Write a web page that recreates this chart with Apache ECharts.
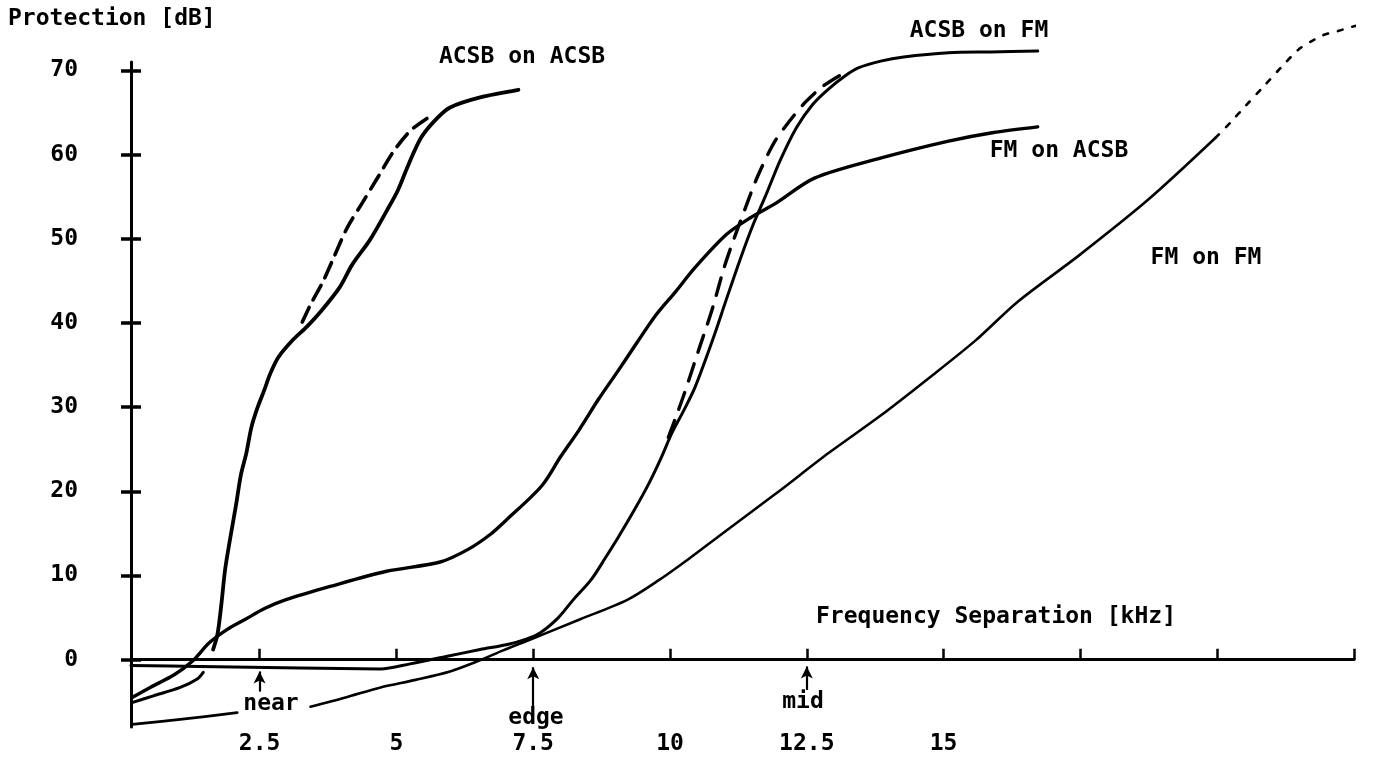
<!DOCTYPE html>
<html>
<head>
<meta charset="utf-8">
<script src="https://cdn.jsdelivr.net/npm/echarts@6/dist/echarts.min.js"></script>
<style>html,body{margin:0;padding:0;background:#fff}#c{width:1382px;height:760px}</style>
</head>
<body>
<div id="c"></div>
<script>
// ---- axis ticks / labels (kHz, dB) ----
const xTickValues = [2.5, 5, 7.5, 10, 12.5, 15, 17.5, 20, 22.5];
const xLabelValues = [2.5, 5, 7.5, 10, 12.5, 15];
const yTickValues = [0, 10, 20, 30, 40, 50, 60, 70];

// ---- curves: [frequency separation kHz, protection dB] ----
const acsbOnAcsbLow = [[0.17,-5.1],[0.56,-4.3],[1.05,-3.3],[1.36,-2.3],[1.47,-1.5]];
const acsbOnAcsb = [[1.65,1.2],[1.73,3.0],[1.80,6.5],[1.87,10.7],[1.96,14.3],[2.07,18.4],[2.16,22.0],[2.26,24.6],[2.35,27.6],[2.46,29.9],[2.59,32.1],[2.69,33.9],[2.84,35.9],[3.11,38.0],[3.37,39.6],[3.61,41.3],[3.96,44.2],[4.19,46.9],[4.52,49.9],[4.83,53.4],[5.03,55.8],[5.22,58.8],[5.45,62.0],[5.71,64.1],[5.98,65.6],[6.53,66.8],[7.23,67.7]];
const acsbOnAcsbDashed = [[3.28,40.1],[3.44,42.3],[3.65,44.8],[3.85,47.7],[4.10,51.3],[4.38,54.3],[4.67,57.4],[4.94,60.3],[5.25,62.8],[5.56,64.3]];
const fmOnAcsb = [[0.17,-4.5],[0.50,-3.3],[0.94,-1.8],[1.27,-0.2],[1.58,2.0],[1.91,3.6],[2.24,4.8],[2.60,6.1],[2.97,7.1],[3.79,8.7],[4.82,10.5],[5.80,11.6],[6.31,13.1],[6.72,14.9],[7.01,16.6],[7.65,20.6],[8.00,24.1],[8.34,27.3],[8.69,30.9],[9.06,34.4],[9.40,37.7],[9.75,41.0],[10.10,43.7],[10.46,46.6],[11.03,50.5],[11.47,52.5],[11.93,54.2],[12.64,57.2],[13.86,59.6],[15.09,61.6],[15.89,62.6],[16.72,63.3]];
const acsbOnFm = [[0.15,-0.7],[1.41,-0.8],[3.24,-1.0],[4.71,-1.1],[5.25,-0.5],[5.93,0.4],[6.53,1.2],[7.03,1.8],[7.36,2.4],[7.63,3.2],[7.96,5.0],[8.23,7.1],[8.56,9.5],[8.82,12.1],[9.06,14.6],[9.35,17.8],[9.62,21.0],[9.84,24.0],[10.04,27.0],[10.26,29.7],[10.46,32.4],[10.78,38.0],[11.03,42.8],[11.29,47.7],[11.52,51.7],[11.74,55.0],[12.02,59.4],[12.31,63.2],[12.60,65.9],[12.88,67.7],[13.21,69.4],[13.44,70.3],[13.85,71.1],[14.27,71.6],[15.09,72.1],[15.86,72.2],[16.72,72.3]];
const acsbOnFmDashed = [[9.97,26.4],[10.24,31.2],[10.54,37.1],[10.77,41.6],[10.99,46.6],[11.18,50.2],[11.38,53.7],[11.60,57.4],[11.91,61.5],[12.20,64.1],[12.47,66.2],[12.79,68.1],[13.13,69.5]];
const fmOnFmLow = [[0.17,-7.7],[1.05,-7.1],[2.09,-6.3]];
const fmOnFm = [[3.43,-5.6],[4.07,-4.5],[4.71,-3.3],[5.35,-2.4],[5.98,-1.4],[6.48,-0.2],[6.95,1.1],[7.45,2.4],[8.36,4.8],[9.22,7.1],[9.81,9.5],[10.37,12.1],[10.88,14.6],[11.93,19.7],[12.91,24.6],[13.85,29.0],[14.74,33.5],[15.58,37.9],[16.35,42.5],[17.47,48.0],[18.73,54.6],[19.97,62.0]];
const fmOnFmDotted = [[19.97,62.0],[20.24,63.8],[20.52,65.8],[20.85,68.1],[21.16,70.3],[21.49,72.5],[21.76,73.6],[21.94,74.2],[22.22,74.7],[22.47,75.2],[22.75,75.5]];

// ---- arrow annotations point at these ticks ----
const arrowTicks = [2.5, 7.5, 12.5];
const arrowNames = ['near', 'edge', 'mid'];

const FONT = 'bold 23px "DejaVu Sans Mono"';
const txt = { color: '#000', fontFamily: 'DejaVu Sans Mono', fontWeight: 'bold', fontSize: 23 };

function line(name, data, width, type) {
  return {
    name, type: 'line', data, showSymbol: false, smooth: 0.3, clip: false, silent: true,
    lineStyle: { color: '#000', width, type, cap: 'round', join: 'round' }
  };
}

const arrowBottom = [-3.8, -5.6, -3.6];
const arrowTip = [-1.4, -0.9, -0.8];

const fmSeries = line('FM on FM', fmOnFm, 2.6, 'solid');
fmSeries.markLine = {
  silent: true, symbol: ['none', 'arrow'], symbolSize: [9, 12], label: { show: false },
  lineStyle: { color: '#000', width: 2.2, type: 'solid' },
  data: arrowTicks.map((t, i) => [{ coord: [t, arrowBottom[i]] }, { coord: [t, arrowTip[i]] }])
};

const option = {
  backgroundColor: '#fff',
  animation: false,
  grid: { left: 131, right: 28, top: 62, bottom: 33, containLabel: false, outerBoundsMode: 'none' },
  xAxis: {
    type: 'value', min: 0.15, max: 22.5,
    axisLine: { onZero: true, lineStyle: { color: '#000', width: 3 } },
    axisTick: { show: true, inside: true, length: 11, customValues: xTickValues, lineStyle: { color: '#000', width: 2.5 } },
    axisLabel: Object.assign({ customValues: xLabelValues, margin: 6 }, txt),
    splitLine: { show: false }
  },
  yAxis: [
    {
      type: 'value', min: -8, max: 71,
      axisLine: { show: true, onZero: false, lineStyle: { color: '#000', width: 3 } },
      axisTick: { show: true, length: 10, customValues: yTickValues, lineStyle: { color: '#000', width: 3.5 } },
      axisLabel: Object.assign({ customValues: yTickValues, margin: 53 }, txt),
      splitLine: { show: false }
    },
    {
      type: 'value', min: -8, max: 71, position: 'left',
      axisLine: { show: false, onZero: false },
      axisTick: { show: true, inside: true, length: 10, customValues: yTickValues, lineStyle: { color: '#000', width: 3.5 } },
      axisLabel: { show: false },
      splitLine: { show: false }
    }
  ],
  series: [
    line('ACSB on ACSB', acsbOnAcsbLow, 3, 'solid'),
    line('ACSB on ACSB', acsbOnAcsb, 3.8, 'solid'),
    line('ACSB on ACSB (dashed)', acsbOnAcsbDashed, 3.6, [16, 9]),
    line('FM on ACSB', fmOnAcsb, 3.4, 'solid'),
    line('ACSB on FM', acsbOnFm, 3, 'solid'),
    line('ACSB on FM (dashed)', acsbOnFmDashed, 3.4, [18, 12]),
    line('FM on FM', fmOnFmLow, 2.8, 'solid'),
    fmSeries,
    line('FM on FM (dotted)', fmOnFmDotted, 2.6, [5, 10])
  ],
  graphic: [
    { type: 'text', x: 8, y: 19, style: { text: 'Protection [dB]', font: FONT, fill: '#000', align: 'left', verticalAlign: 'middle' } },
    { type: 'text', x: 522, y: 57, style: { text: 'ACSB on ACSB', font: FONT, fill: '#000', align: 'center', verticalAlign: 'middle' } },
    { type: 'text', x: 979, y: 31, style: { text: 'ACSB on FM', font: FONT, fill: '#000', align: 'center', verticalAlign: 'middle' } },
    { type: 'text', x: 1059, y: 151, style: { text: 'FM on ACSB', font: FONT, fill: '#000', align: 'center', verticalAlign: 'middle' } },
    { type: 'text', x: 1206, y: 258, style: { text: 'FM on FM', font: FONT, fill: '#000', align: 'center', verticalAlign: 'middle' } },
    { type: 'text', x: 996, y: 617, style: { text: 'Frequency Separation [kHz]', font: FONT, fill: '#000', align: 'center', verticalAlign: 'middle' } },
    { type: 'text', x: 271, y: 704, style: { text: arrowNames[0], font: FONT, fill: '#000', align: 'center', verticalAlign: 'middle' } },
    { type: 'text', x: 536, y: 718, style: { text: arrowNames[1], font: FONT, fill: '#000', align: 'center', verticalAlign: 'middle' } },
    { type: 'text', x: 803, y: 702, style: { text: arrowNames[2], font: FONT, fill: '#000', align: 'center', verticalAlign: 'middle' } }
  ]
};

const chart = echarts.init(document.getElementById('c'));
chart.setOption(option);
</script>
</body>
</html>
